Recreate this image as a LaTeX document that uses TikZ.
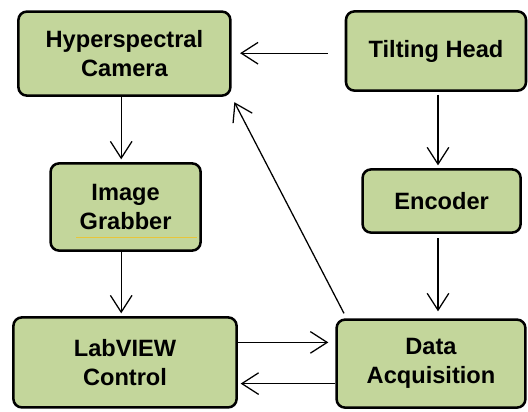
\documentclass[tikz,border=0pt]{standalone}
\usepackage{fontspec}
\setmainfont{Liberation Sans}
\usepackage{tikz}
\usetikzlibrary{arrows.meta}
\definecolor{boxgreen}{HTML}{C3D69B}
\definecolor{spell}{HTML}{E8C53A}

\begin{document}
\begin{tikzpicture}[
  x=1cm, y=1cm,
  font=\fontsize{16.8}{20.5}\selectfont\bfseries,
  unit/.style={draw=black, rounded corners=6pt, fill=boxgreen, line width=1.8pt,
               align=center, inner sep=2pt},
  flow/.style={-{Straight Barb[length=4.2mm,width=5.4mm,line width=0.9pt]}, draw=black, line width=0.9pt},
]
\useasboundingbox (0,0) rectangle (13.2,-10.275);

% Acquisition chain: camera side on the left, head and encoder on the right.
\node[unit, minimum width=5.3cm, minimum height=2.1cm] (cam) at (3.11,-1.34) {Hyperspectral\\Camera};
\node[unit, minimum width=4.5cm, minimum height=1.98cm] (tilt) at (10.9,-1.275) {Tilting Head};
\node[unit, minimum width=3.75cm, minimum height=2.18cm] (grab) at (3.14,-5.175) {Image\\Grabber};
\node[unit, minimum width=3.95cm, minimum height=1.58cm] (enc) at (11.04,-5.025) {Encoder};
\node[unit, minimum width=5.58cm, minimum height=2.25cm] (lab) at (3.125,-9.06) {LabVIEW\\Control};
\node[unit, minimum width=4.72cm, minimum height=2.2cm] (daq) at (10.775,-9.09) {Data\\Acquisition};

% Spell-check mark under the grabber label.
\coordinate (mark) at (1.9,-5.93);
\draw[spell, line width=0.6pt] (mark) -- ++(3.03,0);

% Connections.
\draw[flow, shorten <=12pt, shorten >=6pt] (tilt.west |- 0,-1.33) -- (cam.east |- 0,-1.33);
\draw[flow, shorten >=2pt] (cam.south -| 3.03,0) -- (grab.north -| 3.03,0);
\draw[flow, shorten <=2pt, shorten >=2pt] (tilt.south -| 10.95,0) -- (enc.north -| 10.95,0);
\draw[flow, shorten <=3pt, shorten >=5pt] (enc.south -| 10.95,0) -- (daq.north -| 10.95,0);
\draw[flow, shorten >=2pt] (grab.south -| 3.03,0) -- (lab.north -| 3.03,0);
\draw[flow, shorten >=5pt] ([yshift=0.5cm]lab.east) -- ([yshift=0.5cm]lab.east -| daq.west);
\draw[flow, shorten >=2pt] ([yshift=-0.5cm]daq.west) -- ([yshift=-0.5cm]daq.west -| lab.east);
\draw[flow, shorten <=4pt, shorten >=2pt] ([xshift=8pt]daq.north west) -- ([xshift=1pt,yshift=-2pt]cam.south east);
\end{tikzpicture}
\end{document}
